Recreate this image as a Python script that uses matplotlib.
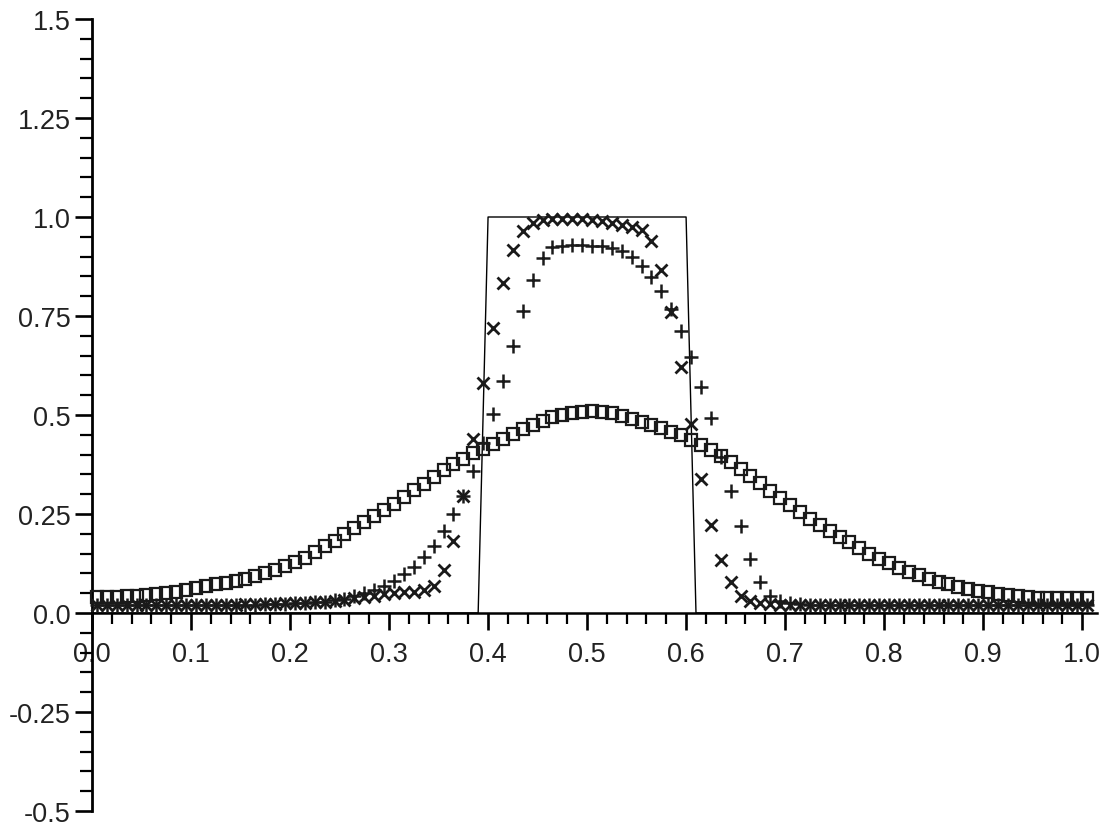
import numpy as np
import matplotlib
matplotlib.use("Agg")
import matplotlib.pyplot as plt
from matplotlib.ticker import MultipleLocator, FixedLocator, FixedFormatter

plt.rcParams['font.family'] = ['Liberation Sans', 'DejaVu Sans']

# sample positions (cell centres)
grid = 0.005 + 0.01 * np.arange(101)

# exact square pulse
exact_x = [0.0, 0.39, 0.40, 0.60, 0.61, 1.0]
exact_y = [0.0, 0.0, 1.0, 1.0, 0.0, 0.0]

# diffused solution (squares)
sq_vals = [0.040, 0.040, 0.041, 0.042, 0.043, 0.045, 0.047, 0.050, 0.054, 0.058,
           0.062, 0.067, 0.072, 0.077, 0.081, 0.087, 0.094, 0.101, 0.109, 0.118,
           0.128, 0.140, 0.155, 0.168, 0.182, 0.200, 0.215, 0.230, 0.245, 0.260,
           0.276, 0.292, 0.310, 0.327, 0.344, 0.360, 0.376, 0.390, 0.403, 0.415,
           0.428, 0.440, 0.452, 0.465, 0.476, 0.486, 0.494, 0.500, 0.505, 0.508,
           0.509, 0.508, 0.504, 0.498, 0.490, 0.482, 0.475, 0.467, 0.458, 0.450,
           0.437, 0.425, 0.412, 0.397, 0.381, 0.364, 0.346, 0.328, 0.309, 0.290,
           0.272, 0.255, 0.238, 0.221, 0.206, 0.192, 0.179, 0.165, 0.150, 0.137,
           0.126, 0.114, 0.104, 0.095, 0.087, 0.079, 0.072, 0.066, 0.061, 0.056,
           0.052, 0.048, 0.045, 0.042, 0.040, 0.039, 0.038, 0.038, 0.038, 0.038,
           0.038]

# sharp scheme (x markers)
x_vals = [0.020, 0.020, 0.020, 0.020, 0.020, 0.020, 0.020, 0.020, 0.020, 0.020,
          0.020, 0.020, 0.021, 0.021, 0.021, 0.022, 0.022, 0.023, 0.023, 0.024,
          0.025, 0.026, 0.027, 0.029, 0.031, 0.034, 0.037, 0.041, 0.044, 0.047,
          0.050, 0.052, 0.054, 0.057, 0.068, 0.109, 0.182, 0.296, 0.440, 0.581,
          0.720, 0.833, 0.917, 0.965, 0.985, 0.992, 0.995, 0.996, 0.996, 0.995,
          0.993, 0.990, 0.986, 0.981, 0.976, 0.968, 0.939, 0.866, 0.760, 0.621,
          0.477, 0.338, 0.222, 0.134, 0.078, 0.043, 0.030, 0.025, 0.022, 0.021,
          0.020, 0.020, 0.020, 0.020, 0.020, 0.020, 0.020, 0.020, 0.020, 0.020,
          0.020, 0.020, 0.020, 0.020, 0.020, 0.020, 0.020, 0.020, 0.020, 0.020,
          0.020, 0.020, 0.020, 0.020, 0.020, 0.020, 0.020, 0.020, 0.020, 0.020,
          0.020]

# intermediate scheme (+ markers)
plus_vals = [0.020, 0.020, 0.020, 0.020, 0.020, 0.020, 0.020, 0.020, 0.020, 0.020,
             0.020, 0.020, 0.020, 0.020, 0.020, 0.021, 0.021, 0.022, 0.022, 0.023,
             0.024, 0.025, 0.027, 0.029, 0.032, 0.036, 0.042, 0.050, 0.058, 0.068,
             0.081, 0.098, 0.116, 0.141, 0.169, 0.207, 0.250, 0.296, 0.359, 0.430,
             0.503, 0.586, 0.674, 0.763, 0.841, 0.896, 0.924, 0.928, 0.929, 0.929,
             0.928, 0.926, 0.921, 0.914, 0.899, 0.876, 0.848, 0.813, 0.768, 0.712,
             0.646, 0.571, 0.492, 0.394, 0.308, 0.220, 0.136, 0.078, 0.043, 0.030,
             0.025, 0.022, 0.021, 0.020, 0.020, 0.020, 0.020, 0.020, 0.020, 0.020,
             0.020, 0.020, 0.020, 0.020, 0.020, 0.020, 0.020, 0.020, 0.020, 0.020,
             0.020, 0.020, 0.020, 0.020, 0.020, 0.020, 0.020, 0.020, 0.020, 0.020,
             0.020]

x_ticks = [0.0, 0.1, 0.2, 0.3, 0.4, 0.5, 0.6, 0.7, 0.8, 0.9, 1.0]
x_labels = ["0.0", "0.1", "0.2", "0.3", "0.4", "0.5", "0.6", "0.7", "0.8", "0.9", "1.0"]
y_ticks = [-0.5, -0.25, 0.0, 0.25, 0.5, 0.75, 1.0, 1.25, 1.5]
y_labels = ["-0.5", "-0.25", "0.0", "0.25", "0.5", "0.75", "1.0", "1.25", "1.5"]

fig = plt.figure(figsize=(11.1, 8.28), dpi=100)
ax = fig.add_axes([92 / 1110, 16 / 828, 1005 / 1110, 792 / 828])

ax.plot(exact_x, exact_y, color='black', lw=1.0, zorder=2)
ax.plot(grid, sq_vals, ls='none', marker='s', ms=8.3, mfc='none', mec='#1a1a1a',
        mew=1.6, clip_on=False, zorder=3)
ax.plot(grid, plus_vals, ls='none', marker='+', ms=10, mec='#1a1a1a',
        mew=1.8, clip_on=False, zorder=4)
ax.plot(grid, x_vals, ls='none', marker='x', ms=8.5, mec='#1a1a1a',
        mew=2.0, clip_on=False, zorder=5)

ax.set_xlim(0, 1.015)
ax.set_ylim(-0.5, 1.5)

for s in ['top', 'right']:
    ax.spines[s].set_visible(False)
ax.spines['bottom'].set_position(('data', 0))
ax.spines['left'].set_position(('data', 0))
ax.spines['left'].set_linewidth(2.0)
ax.spines['bottom'].set_linewidth(1.8)

ax.xaxis.set_major_locator(FixedLocator(x_ticks))
ax.xaxis.set_major_formatter(FixedFormatter(x_labels))
ax.xaxis.set_minor_locator(MultipleLocator(0.02))
ax.yaxis.set_major_locator(FixedLocator(y_ticks))
ax.yaxis.set_major_formatter(FixedFormatter(y_labels))
ax.yaxis.set_minor_locator(MultipleLocator(0.05))

ax.tick_params(axis='x', which='major', direction='out', length=12, width=1.9,
               labelsize=19.5, pad=8, labelcolor='#222222')
ax.tick_params(axis='x', which='minor', direction='out', length=8, width=1.6)
ax.tick_params(axis='y', which='major', direction='out', length=12.5, width=1.9,
               labelsize=19.5, pad=3, labelcolor='#222222')
ax.tick_params(axis='y', which='minor', direction='out', length=8.5, width=1.6)

fig.savefig("out.png", dpi=100)
